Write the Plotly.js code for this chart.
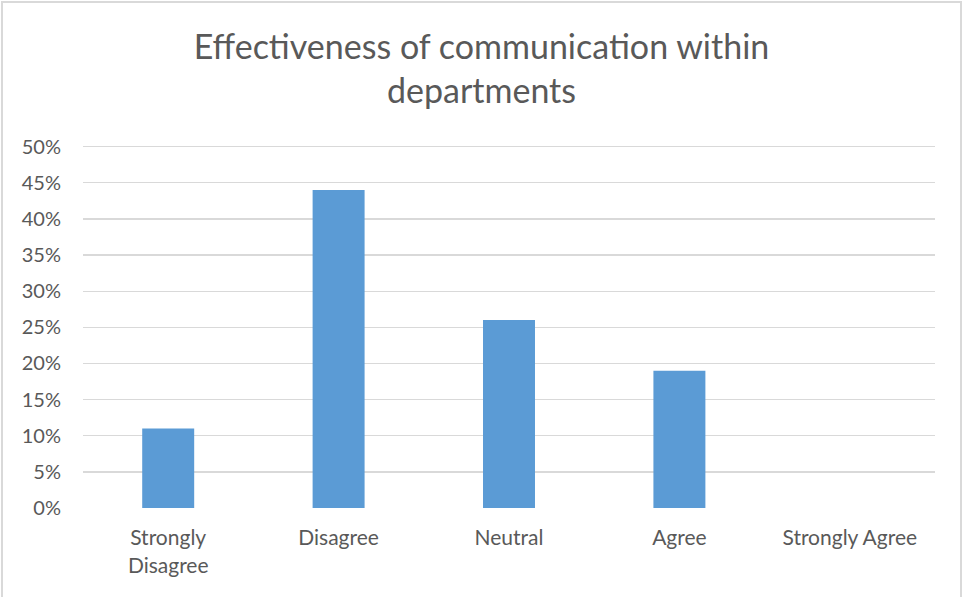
<!DOCTYPE html>
<html>
<head>
<meta charset="utf-8">
<script src="https://cdn.plot.ly/plotly-3.0.1.min.js"></script>
<style>
html,body{margin:0;padding:0;background:#fff;}
#wrap{position:relative;width:963px;height:597px;}
#chart{width:963px;height:597px;}
#frame{position:absolute;left:1px;top:1px;width:957px;height:600px;border:2px solid #d9d9d9;pointer-events:none;}
</style>
</head>
<body>
<div id="wrap"><div id="chart"></div><div id="frame"></div></div>
<script>
const categories = ["Strongly<br>Disagree", "Disagree", "Neutral", "Agree", "Strongly Agree"];
const shares = [0.11, 0.44, 0.26, 0.19, 0.0];
const yTickVals = [0, 0.05, 0.10, 0.15, 0.20, 0.25, 0.30, 0.35, 0.40, 0.45, 0.50];
const titleText = "Effectiveness of communication within<br>departments";

const FONT = "Lato, 'Open Sans', sans-serif";
const TXT = "#595959";

Plotly.newPlot("chart", [{
  type: "bar",
  x: categories,
  y: shares,
  marker: {color: "#5B9BD5"},
  hoverinfo: "skip"
}], {
  width: 963, height: 597,
  margin: {l: 83, r: 28, t: 143, b: 89},
  paper_bgcolor: "#fff", plot_bgcolor: "#fff",
  bargap: 0.695,
  showlegend: false,
  title: {
    text: titleText,
    font: {family: FONT, size: 34, color: TXT},
    x: 0.5, xanchor: "center",
    y: 0.901, yanchor: "middle"
  },
  xaxis: {
    type: "category",
    showgrid: false, zeroline: false, showline: false,
    ticks: "outside", ticklen: 11, tickcolor: "rgba(0,0,0,0)",
    tickfont: {family: FONT, size: 21, color: TXT}
  },
  yaxis: {
    range: [0, 0.505],
    tickvals: yTickVals,
    tickformat: ".0%",
    showgrid: true, gridcolor: "#d9d9d9", gridwidth: 1.3,
    zeroline: false, showline: false,
    ticks: "outside", ticklen: 17, tickcolor: "rgba(0,0,0,0)",
    tickfont: {family: FONT, size: 20, color: TXT}
  }
}, {staticPlot: true});
</script>
</body>
</html>
